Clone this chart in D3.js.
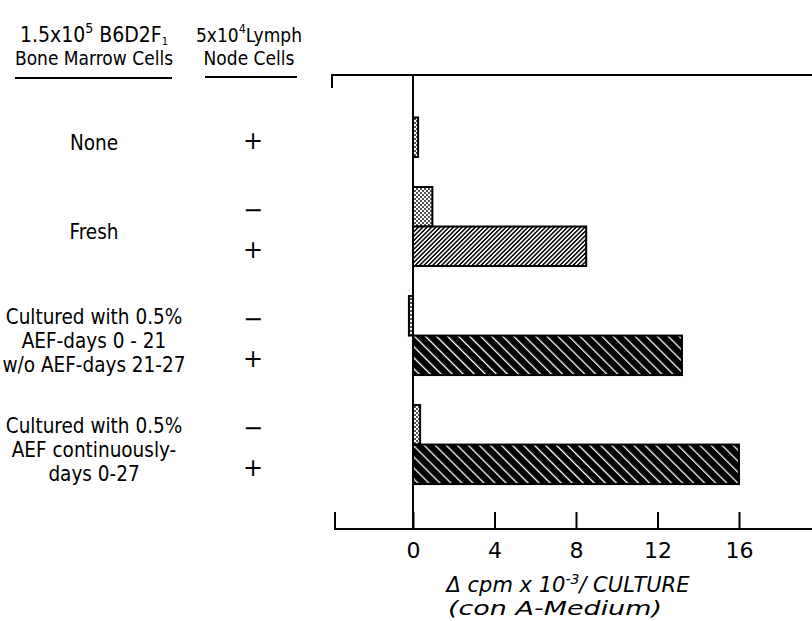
<!DOCTYPE html>
<html><head><meta charset="utf-8">
<script src="https://cdn.jsdelivr.net/npm/d3@7"></script>
<style>
html,body{margin:0;padding:0;background:#fff;}
svg{display:block;}
text{font-family:"DejaVu Sans Condensed","DejaVu Sans",sans-serif;fill:#000;}
</style></head><body>
<script>
// ---- data ----
const groups = ["None", "Fresh", "Cultured with 0.5%\nAEF-days 0 - 21\nw/o AEF-days 21-27", "Cultured with 0.5%\nAEF continuously-\ndays 0-27"];
const barGroup = [0, 1, 1, 2, 2, 3, 3];
const lymphSign = ["+", "−", "+", "−", "+", "−", "+"];
const values = [0.25, 0.95, 8.5, -0.2, 13.2, 0.35, 16.0];
const fills = ["dots", "dots", "hatchLight", "dots", "hatchDark", "dots", "hatchDark"];
const tickValues = [0, 4, 8, 12, 16];

const W = 812, H = 621;
const svg = d3.select("body").append("svg").attr("width", W).attr("height", H);

// horizontally condense a text around its anchor x
const squeeze = (sel, cx, s) => sel.attr("transform", `translate(${cx},0) scale(${s},1) translate(${-cx},0)`);

// patterns
const defs = svg.append("defs");
const pd = defs.append("pattern").attr("id", "dots").attr("patternUnits", "userSpaceOnUse")
  .attr("width", 4).attr("height", 4);
pd.append("rect").attr("width", 4).attr("height", 4).attr("fill", "#fff");
pd.append("circle").attr("cx", 1).attr("cy", 1).attr("r", 0.9).attr("fill", "#000");
pd.append("circle").attr("cx", 3).attr("cy", 3).attr("r", 0.9).attr("fill", "#000");

const pl = defs.append("pattern").attr("id", "hatchLight").attr("patternUnits", "userSpaceOnUse")
  .attr("width", 3.1).attr("height", 10).attr("patternTransform", "rotate(45)");
pl.append("rect").attr("width", 3.1).attr("height", 10).attr("fill", "#fff");
pl.append("rect").attr("width", 1.5).attr("height", 10).attr("fill", "#000");

const pk = defs.append("pattern").attr("id", "hatchDark").attr("patternUnits", "userSpaceOnUse")
  .attr("width", 7.8).attr("height", 10).attr("patternTransform", "rotate(-45)");
pk.append("rect").attr("width", 7.8).attr("height", 10).attr("fill", "#000");
pk.append("rect").attr("width", 1.3).attr("height", 10).attr("fill", "#fff");

// scales
const x = d3.scaleLinear().domain([0, 16]).range([413, 739]);
const slotOf = i => barGroup[i] * 2.76 + (lymphSign[i] === "+" ? 1 : 0);
const y = d3.scaleLinear().domain([0, 1]).range([78, 117.5]);
const barH = y(1) - y(0);

const axisY = 529, topY = 75;

// top line with left tick
svg.append("path").attr("d", `M332,${topY + 13}V${topY}H${W}`)
  .attr("fill", "none").attr("stroke", "#000").attr("stroke-width", 2);

// bars
svg.selectAll("rect.bar").data(values).join("rect").attr("class", "bar")
  .attr("x", d => x(Math.min(0, d)))
  .attr("y", (d, i) => y(slotOf(i)))
  .attr("width", d => Math.abs(x(d) - x(0)))
  .attr("height", barH)
  .attr("fill", (d, i) => `url(#${fills[i]})`)
  .attr("stroke", "#000").attr("stroke-width", 2);

// zero line
svg.append("line").attr("x1", x(0)).attr("x2", x(0)).attr("y1", topY).attr("y2", axisY)
  .attr("stroke", "#000").attr("stroke-width", 2);

// x axis
const ax = svg.append("g").attr("transform", `translate(0,${axisY})`)
  .call(d3.axisBottom(x).tickValues(tickValues).tickSize(-17).tickPadding(0).tickFormat(d3.format("d")));
ax.select(".domain").remove();
ax.selectAll(".tick line").attr("stroke", "#000").attr("stroke-width", 2);
ax.selectAll(".tick text").attr("font-size", 22).attr("dy", null).attr("y", 29)
  .style("font-family", '"DejaVu Sans",sans-serif');
svg.append("path").attr("d", `M335,${axisY - 17}V${axisY}H${W}`)
  .attr("fill", "none").attr("stroke", "#000").attr("stroke-width", 2);

// axis title
const t1 = svg.append("text").attr("x", 568).attr("y", 592).attr("text-anchor", "middle")
  .attr("font-size", 21).attr("font-style", "italic")
  .style("font-family", '"DejaVu Sans",sans-serif');
t1.append("tspan").text("Δ cpm x 10");
t1.append("tspan").attr("font-size", 14).attr("dy", -8).text("-3");
t1.append("tspan").attr("dy", 8).text("/ CULTURE");
svg.append("text").attr("x", 555).attr("y", 615).attr("text-anchor", "middle")
  .attr("font-size", 20).attr("font-style", "italic")
  .style("font-family", '"DejaVu Sans",sans-serif')
  .attr("textLength", 214).attr("lengthAdjust", "spacingAndGlyphs").text("(con A-Medium)");

// headers
const colL = 94, colR = 249;
const h1 = svg.append("text").attr("x", colL).attr("y", 42).attr("text-anchor", "middle").attr("font-size", 21);
h1.append("tspan").text("1.5x10");
h1.append("tspan").attr("font-size", 14).attr("dy", -9).text("5");
h1.append("tspan").attr("dy", 9).text(" B6D2F");
h1.append("tspan").attr("font-size", 11).attr("dy", 3).text("1");
squeeze(svg.append("text").attr("x", colL).attr("y", 65).attr("text-anchor", "middle").attr("font-size", 20).text("Bone Marrow Cells"), colL, 0.95);
svg.append("line").attr("x1", 15).attr("x2", 172).attr("y1", 78).attr("y2", 78).attr("stroke", "#000").attr("stroke-width", 2);

const h2 = svg.append("text").attr("x", colR).attr("y", 42).attr("text-anchor", "middle").attr("font-size", 20);
h2.append("tspan").text("5x10");
h2.append("tspan").attr("font-size", 13).attr("dy", -9).text("4");
h2.append("tspan").attr("dy", 9).text("Lymph");
squeeze(h2, colR, 0.95);
squeeze(svg.append("text").attr("x", colR).attr("y", 65).attr("text-anchor", "middle").attr("font-size", 20).text("Node Cells"), colR, 0.95);
svg.append("line").attr("x1", 205).attr("x2", 297).attr("y1", 77).attr("y2", 77).attr("stroke", "#000").attr("stroke-width", 2);

// group labels
groups.forEach((g, gi) => {
  const idx = barGroup.map((b, i) => b === gi ? i : -1).filter(i => i >= 0);
  const top = d3.min(idx, i => y(slotOf(i)));
  const bot = d3.max(idx, i => y(slotOf(i)) + barH);
  const mid = (top + bot) / 2 + 5;
  const lines = g.split("\n");
  const lh = 24;
  const t = svg.append("text").attr("x", colL).attr("text-anchor", "middle").attr("font-size", 20.5);
  lines.forEach((l, li) => {
    t.append("tspan").attr("x", colL).attr("y", mid + (li - (lines.length - 1) / 2) * lh).attr("dy", "0.36em").text(l);
  });
});

// lymph signs
svg.selectAll("text.sign").data(lymphSign).join("text").attr("class", "sign")
  .attr("x", 253).attr("y", (d, i) => y(slotOf(i)) + barH / 2 + 3)
  .attr("dy", "0.35em").attr("text-anchor", "middle").attr("font-size", 24)
  .style("font-family", '"DejaVu Sans",sans-serif')
  .text(d => d);
</script>
</body></html>
